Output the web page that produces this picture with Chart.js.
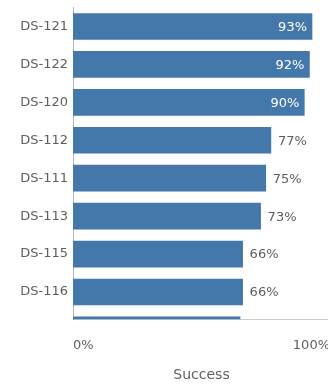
<!DOCTYPE html>
<html>
<head>
<meta charset="utf-8">
<script src="https://cdn.jsdelivr.net/npm/chart.js@4"></script>
<style>
  html, body { margin: 0; padding: 0; overflow: hidden; background: #fff; }
  #wrap { width: 328px; height: 386px; overflow: hidden; }
</style>
</head>
<body>
<div id="wrap"><canvas id="myChart" width="332" height="386"></canvas></div>
<script>
// categories, top to bottom (last one is scrolled out, only its bar top shows)
var categories = ["DS-121", "DS-122", "DS-120", "DS-112", "DS-111", "DS-113", "DS-115", "DS-116", ""];
var success = [93, 92, 90, 77, 75, 73, 66, 66, 65];
var xTicks = [0, 100];
var axisTitle = "Success";

var barColor = "rgb(68, 119, 170)";
var textColor = "#5e5e5e";
var fontFamily = "'DejaVu Sans', sans-serif";

// bars sit on a linear index axis so the list can be shown part-scrolled
var points = success.map(function (v, i) { return { x: v, y: i }; });

var valueLabels = {
    id: "valueLabels",
    afterDatasetsDraw: function (chart) {
        var ctx = chart.ctx;
        var area = chart.chartArea;
        var meta = chart.getDatasetMeta(0);
        ctx.save();
        ctx.beginPath();
        ctx.rect(area.left, area.top, area.right - area.left, area.bottom - area.top);
        ctx.clip();
        ctx.font = "13px " + fontFamily;
        ctx.textBaseline = "middle";
        meta.data.forEach(function (bar, i) {
            var v = success[i];
            var txt = v + "%";
            if (v >= 85) {
                ctx.fillStyle = "#ffffff";
                ctx.textAlign = "right";
                ctx.fillText(txt, bar.x - 5, bar.y + 1);
            } else {
                ctx.fillStyle = textColor;
                ctx.textAlign = "left";
                ctx.fillText(txt, bar.x + 7, bar.y + 1);
            }
        });
        ctx.restore();
    }
};

var ctx = document.getElementById("myChart").getContext("2d");
var chart = new Chart(ctx, {
    type: "bar",
    data: {
        datasets: [{
            data: points,
            backgroundColor: barColor,
            borderWidth: 0,
            barThickness: 26,
            clip: 0
        }]
    },
    plugins: [valueLabels],
    options: {
        responsive: false,
        animation: false,
        indexAxis: "y",
        layout: { padding: { top: 7.5, right: 2, left: 0, bottom: 0 } },
        plugins: {
            legend: { display: false },
            tooltip: { enabled: false }
        },
        scales: {
            x: {
                type: "linear",
                min: xTicks[0],
                max: xTicks[xTicks.length - 1],
                grid: { display: false, drawTicks: true, tickLength: 16 },
                border: { display: true, color: "#cccccc", width: 1 },
                afterBuildTicks: function (scale) {
                    scale.ticks = xTicks.map(function (t) { return { value: t }; });
                },
                ticks: {
                    align: "inner",
                    padding: 3,
                    color: textColor,
                    font: { family: fontFamily, size: 13 },
                    callback: function (v) { return v + "%"; }
                },
                title: {
                    display: true,
                    text: axisTitle,
                    color: textColor,
                    font: { family: fontFamily, size: 14 },
                    padding: { top: 0, bottom: 2 }
                },
                afterFit: function (scale) {
                    scale.height = 66.7;
                    scale.paddingLeft = 0;
                    scale.paddingRight = 0;
                }
            },
            y: {
                type: "linear",
                reverse: true,
                offset: false,
                min: -0.5,
                max: 7.72,
                grid: { display: false, drawTicks: false },
                border: { display: true, color: "#b5b5b5", width: 1 },
                ticks: {
                    stepSize: 1,
                    autoSkip: false,
                    padding: 5,
                    color: textColor,
                    font: { family: fontFamily, size: 13 },
                    callback: function (v) {
                        if (Number.isInteger(v) && v >= 0 && v < categories.length) return categories[v];
                        return "";
                    }
                },
                afterFit: function (scale) {
                    scale.width = 73;
                    scale.paddingTop = 0;
                    scale.paddingBottom = 0;
                }
            }
        }
    }
});
</script>
</body>
</html>
